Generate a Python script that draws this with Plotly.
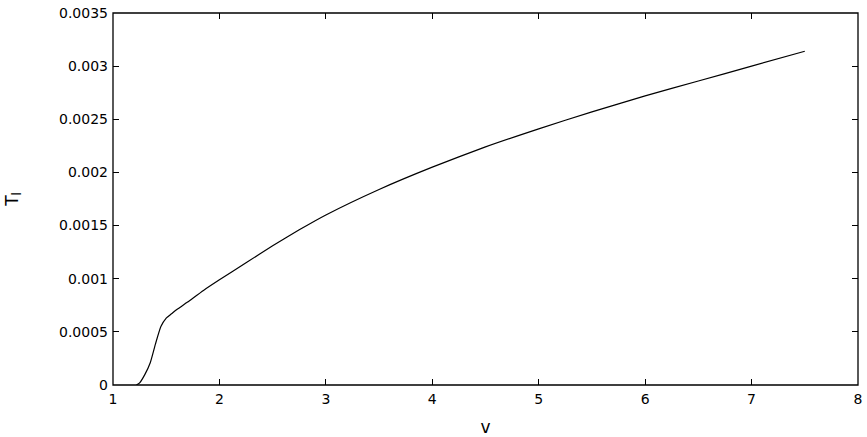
import plotly.graph_objects as go

# values
v = [1.22, 1.25, 1.30, 1.35, 1.40, 1.45, 1.50, 1.55, 1.60, 1.70, 1.85,
     2.0, 2.25, 2.5, 2.75, 3.0, 3.5, 4.0, 4.5, 5.0, 5.5, 6.0, 6.5, 7.0, 7.5]
T_l = [0.0, 0.00002, 0.00010, 0.00021, 0.00039, 0.00055, 0.00063, 0.00067,
       0.00071, 0.00078, 0.00089, 0.00099, 0.00115, 0.00131, 0.00146,
       0.00160, 0.00184, 0.00205, 0.00224, 0.00241, 0.00257, 0.00272,
       0.00286, 0.00300, 0.00314]

x_ticks = [1, 2, 3, 4, 5, 6, 7, 8]
y_ticks = [0, 0.0005, 0.001, 0.0015, 0.002, 0.0025, 0.003, 0.0035]
y_labels = ['0', '0.0005', '0.001', '0.0015', '0.002', '0.0025', '0.003', '0.0035']

fig = go.Figure()
fig.add_trace(go.Scatter(x=v, y=T_l, mode='lines',
                         line=dict(color='black', width=1.2, shape='spline', smoothing=0.5),
                         showlegend=False))

axis_style = dict(showline=False, mirror='allticks', ticks='inside', ticklen=6,
                  tickcolor='black', tickwidth=1, showgrid=False, zeroline=False,
                  automargin=False, tickfont=dict(size=14, color='black'))

fig.update_layout(
    width=867, height=437,
    margin=dict(l=113, r=9, t=13, b=52),
    plot_bgcolor='white', paper_bgcolor='white',
    font=dict(family='DejaVu Sans, Liberation Sans, sans-serif', size=14, color='black'),
    xaxis=dict(range=[1, 8], tickvals=x_ticks, ticklabelstandoff=4,
               title=dict(text='v', standoff=17), **axis_style),
    yaxis=dict(range=[0, 0.0035], tickvals=y_ticks, ticktext=y_labels,
               ticklabelstandoff=4,
               title=dict(text='T<sub>l</sub>', standoff=36), **axis_style),
)

# plot border
fig.add_shape(type='rect', xref='paper', yref='paper', x0=0, y0=0, x1=1, y1=1,
              line=dict(color='black', width=1.3))

# drop the page's default body margin so the figure sits at the top-left corner
fig.write_html("out.html", config={'displayModeBar': False},
               post_script="document.body.style.margin='0';")
